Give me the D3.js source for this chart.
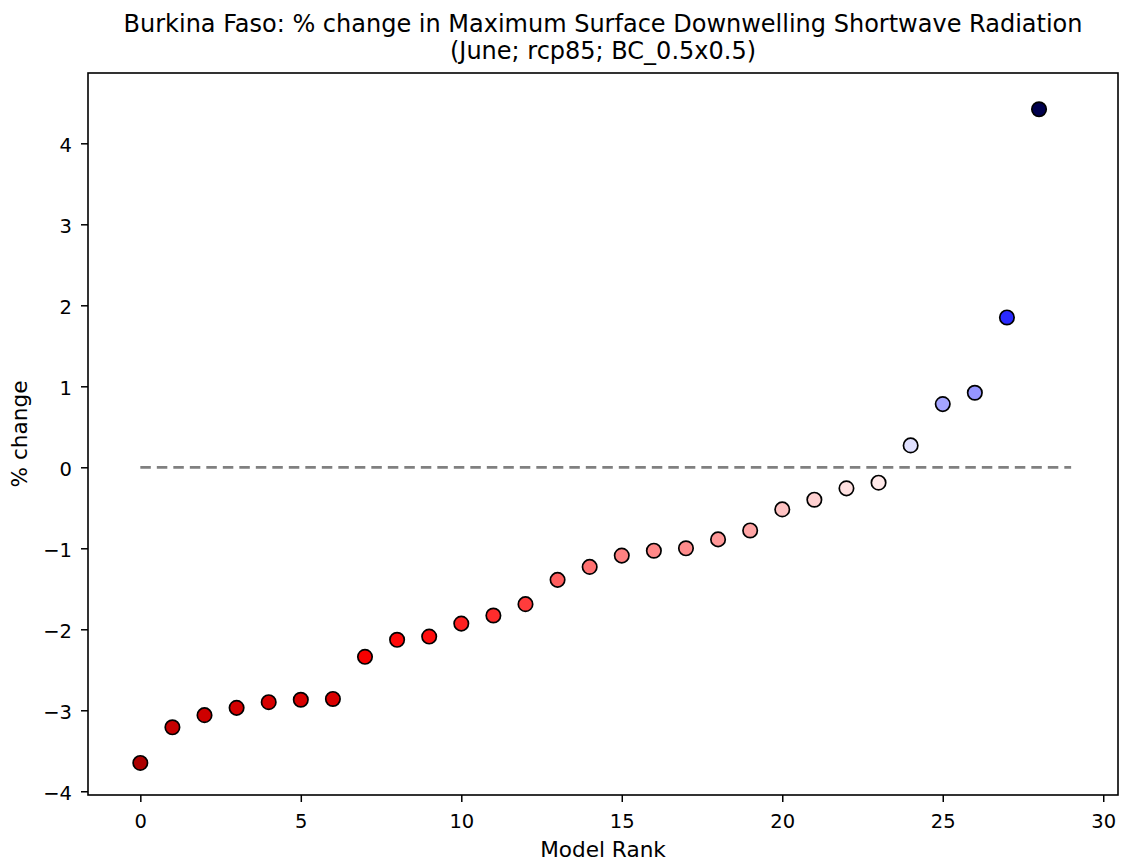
<!DOCTYPE html>
<html>
<head>
<meta charset="utf-8">
<script src="https://cdn.jsdelivr.net/npm/d3@7"></script>
<style>
  html, body { margin: 0; padding: 0; background: #fff; }
  svg { display: block; font-family: "DejaVu Sans", sans-serif; }
</style>
</head>
<body>
<svg id="chart" width="1121" height="861"></svg>
<script>
// ---- data ----
const ranks = d3.range(29);
const values = [-3.65, -3.21, -3.06, -2.97, -2.90, -2.87, -2.86, -2.34, -2.13, -2.09,
                -1.93, -1.83, -1.69, -1.39, -1.23, -1.09, -1.03, -1.00, -0.89, -0.78,
                -0.52, -0.40, -0.26, -0.19, 0.27, 0.78, 0.92, 1.85, 4.42];
const xTicks = [0, 5, 10, 15, 20, 25, 30];
const yTicks = [-4, -3, -2, -1, 0, 1, 2, 3, 4];
const titleLines = ["Burkina Faso: % change in Maximum Surface Downwelling Shortwave Radiation",
                    "(June; rcp85; BC_0.5x0.5)"];
const xLabel = "Model Rank";
const yLabel = "% change";
const zeroLine = [0, 29];

// ---- layout ----
const L = 88, R = 1118, T = 73, B = 795;
const svg = d3.select("#chart");

const x = d3.scaleLinear().domain([-1.63, 30.46]).range([L, R]);
const y = d3.scaleLinear().domain([-4.046, 4.868]).range([B, T]);

// seismic_r colormap normalised symmetric around 0
const vmax = d3.max(values, v => Math.abs(v));
const seismic = d3.scaleLinear()
  .domain([0, 0.25, 0.5, 0.75, 1])
  .range(["rgb(0,0,77)", "rgb(0,0,255)", "rgb(255,255,255)", "rgb(255,0,0)", "rgb(128,0,0)"])
  .interpolate(d3.interpolateRgb);
const color = v => seismic(1 - (v + vmax) / (2 * vmax));

// zero dashed line
svg.append("line")
  .attr("x1", x(zeroLine[0])).attr("x2", x(zeroLine[1]))
  .attr("y1", y(0)).attr("y2", y(0))
  .attr("stroke", "#808080").attr("stroke-width", 2.8)
  .attr("stroke-dasharray", "10.5,6");

// points
svg.append("g").selectAll("circle")
  .data(values)
  .join("circle")
  .attr("cx", (d, i) => x(ranks[i]))
  .attr("cy", d => y(d))
  .attr("r", 7.2)
  .attr("fill", d => color(d))
  .attr("stroke", "#000")
  .attr("stroke-width", 1.7);

// axes
const fmt = d3.format("d");
const xAxis = svg.append("g").attr("transform", `translate(0,${B})`)
  .call(d3.axisBottom(x).tickValues(xTicks).tickFormat(fmt).tickSizeOuter(0).tickSize(7).tickPadding(12));
const yAxis = svg.append("g").attr("transform", `translate(${L},0)`)
  .call(d3.axisLeft(y).tickValues(yTicks).tickFormat(fmt).tickSizeOuter(0).tickSize(7).tickPadding(9));
[xAxis, yAxis].forEach(a => {
  a.select(".domain").remove();
  a.selectAll("line").attr("stroke", "#000").attr("stroke-width", 1.5);
  a.selectAll("text").attr("font-family", "DejaVu Sans").attr("font-size", 19.5).attr("fill", "#000");
});
yAxis.selectAll("text").attr("dy", "0.4em");

// frame
svg.append("rect")
  .attr("x", L).attr("y", T).attr("width", R - L).attr("height", B - T)
  .attr("fill", "none").attr("stroke", "#000").attr("stroke-width", 1.6);

// title
svg.append("g").selectAll("text")
  .data(titleLines)
  .join("text")
  .attr("x", (L + R) / 2)
  .attr("y", (d, i) => 32.3 + i * 26.5)
  .attr("text-anchor", "middle")
  .attr("font-size", 24)
  .attr("fill", "#000")
  .text(d => d);

// axis labels
svg.append("text")
  .attr("x", (L + R) / 2).attr("y", 857)
  .attr("text-anchor", "middle").attr("font-size", 21.6)
  .text(xLabel);
svg.append("text")
  .attr("transform", `translate(27,${(T + B) / 2}) rotate(-90)`)
  .attr("text-anchor", "middle").attr("font-size", 21.6)
  .text(yLabel);
</script>
</body>
</html>
